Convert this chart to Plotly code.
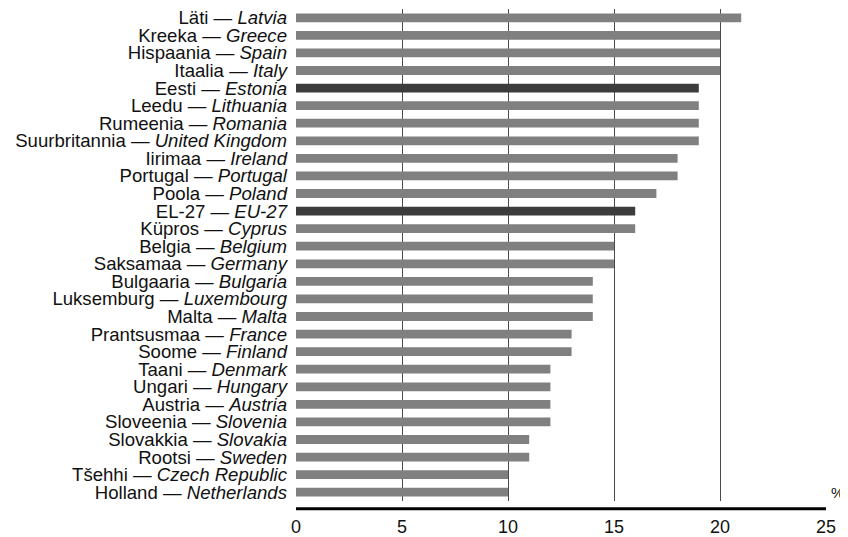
import plotly.graph_objects as go

labels_et = ["Läti", "Kreeka", "Hispaania", "Itaalia", "Eesti", "Leedu", "Rumeenia",
             "Suurbritannia", "Iirimaa", "Portugal", "Poola", "EL-27", "Küpros", "Belgia",
             "Saksamaa", "Bulgaaria", "Luksemburg", "Malta", "Prantsusmaa", "Soome",
             "Taani", "Ungari", "Austria", "Sloveenia", "Slovakkia", "Rootsi", "Tšehhi", "Holland"]
labels_en = ["Latvia", "Greece", "Spain", "Italy", "Estonia", "Lithuania", "Romania",
             "United Kingdom", "Ireland", "Portugal", "Poland", "EU-27", "Cyprus", "Belgium",
             "Germany", "Bulgaria", "Luxembourg", "Malta", "France", "Finland",
             "Denmark", "Hungary", "Austria", "Slovenia", "Slovakia", "Sweden", "Czech Republic", "Netherlands"]
values = [21, 20, 20, 20, 19, 19, 19, 19, 18, 18, 17, 16, 16, 15, 15, 14, 14, 14, 13, 13,
          12, 12, 12, 12, 11, 11, 10, 10]
highlight = ["Estonia", "EU-27"]
x_ticks = [0, 5, 10, 15, 20, 25]

cats = [f"{a} — <i>{b}</i>" for a, b in zip(labels_et, labels_en)]
colors = ["#3c3c3c" if e in highlight else "#808080" for e in labels_en]

fig = go.Figure(go.Bar(x=values, y=cats, orientation="h",
                       marker=dict(color=colors, line=dict(width=0)), width=0.5))

fig.update_layout(
    width=840, height=529,
    margin=dict(l=288, r=22, t=1, b=36, autoexpand=False),
    paper_bgcolor="white", plot_bgcolor="white",
    font=dict(family="Liberation Sans, Arial, sans-serif", size=18, color="#111111"),
    showlegend=False,
)
fig.update_xaxes(range=[0, 25], tickvals=x_ticks, showgrid=True, gridcolor="#4a4a4a", gridwidth=1,
                 zeroline=False, showline=False, ticks="", ticklabelstandoff=13,
                 tickfont=dict(size=18), automargin=False)
fig.update_yaxes(autorange="reversed", tickmode="array", tickvals=cats, ticktext=cats,
                 showgrid=False, ticks="", showline=False, automargin=False,
                 ticklabelstandoff=8, tickfont=dict(size=18.6))

fig.add_shape(type="line", xref="x", yref="paper", x0=0, x1=25, y0=-0.016, y1=-0.016,
              line=dict(color="black", width=3))
fig.add_annotation(text="%", xref="paper", yref="paper", x=1.0, y=0.018, xanchor="left",
                   yanchor="middle", xshift=3, showarrow=False, font=dict(size=15))

fig.write_html("out.html")
